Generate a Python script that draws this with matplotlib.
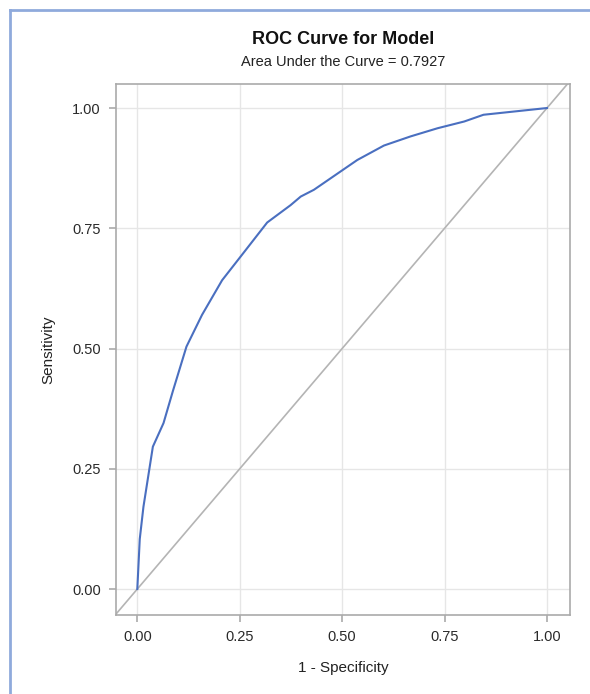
import matplotlib.pyplot as plt
from matplotlib.lines import Line2D

plt.rcParams['font.family'] = ['Liberation Sans', 'DejaVu Sans']

# ROC points: 1 - specificity vs sensitivity
fpr = [0.0, 0.006, 0.015, 0.038, 0.064, 0.087, 0.12, 0.158, 0.207, 0.252,
       0.317, 0.374, 0.399, 0.431, 0.537, 0.602, 0.667, 0.733, 0.798, 0.845, 1.0]
tpr = [0.0, 0.104, 0.171, 0.296, 0.345, 0.412, 0.504, 0.57, 0.642, 0.691,
       0.762, 0.798, 0.816, 0.830, 0.892, 0.922, 0.941, 0.958, 0.972, 0.986, 1.0]
auc = 0.7927
ticks = [0.0, 0.25, 0.5, 0.75, 1.0]

fig = plt.figure(figsize=(5.9, 6.94), dpi=100)
ax = fig.add_axes([0.1966, 0.1138, 0.7694, 0.7652])

# outer frame of the output panel
edge = '#8faadc'
fig.add_artist(Line2D([0.017, 0.017], [0, 0.985], color=edge, lw=2, transform=fig.transFigure))
fig.add_artist(Line2D([0.017, 1.0], [0.985, 0.985], color=edge, lw=2, transform=fig.transFigure))

lim = (-0.052, 1.056)
ax.plot(lim, lim, color='#b4b4b4', lw=1.2, zorder=2)
ax.plot(fpr, tpr, color='#4a6fc0', lw=1.5, zorder=3)

ax.set_xlim(lim)
ax.set_ylim(-0.054, 1.05)
ax.set_xticks(ticks)
ax.set_yticks(ticks)
ax.set_xticklabels(['%.2f' % t for t in ticks])
ax.set_yticklabels(['%.2f' % t for t in ticks])
ax.grid(True, color='#e6e6e6', lw=1)
ax.set_axisbelow(True)
for s in ax.spines.values():
    s.set_color('#aaaaaa')
    s.set_linewidth(1.2)
ax.tick_params(colors='#aaaaaa', labelcolor='#2a2a2a', labelsize=10.5, length=5, width=1.2, pad=6)

ax.set_xlabel('1 - Specificity', fontsize=11, color='#222222', labelpad=12)
ax.set_ylabel('Sensitivity', fontsize=11, color='#222222', labelpad=12)

cx = ax.get_position().x0 + ax.get_position().width / 2
fig.text(cx, 1 - 40 / 694, 'ROC Curve for Model', ha='center', va='center',
         fontsize=13, fontweight='bold', color='#111111')
fig.text(cx, 1 - 62 / 694, 'Area Under the Curve = %.4f' % auc, ha='center', va='center',
         fontsize=10.5, color='#222222')

fig.savefig('out.png', dpi=100)
